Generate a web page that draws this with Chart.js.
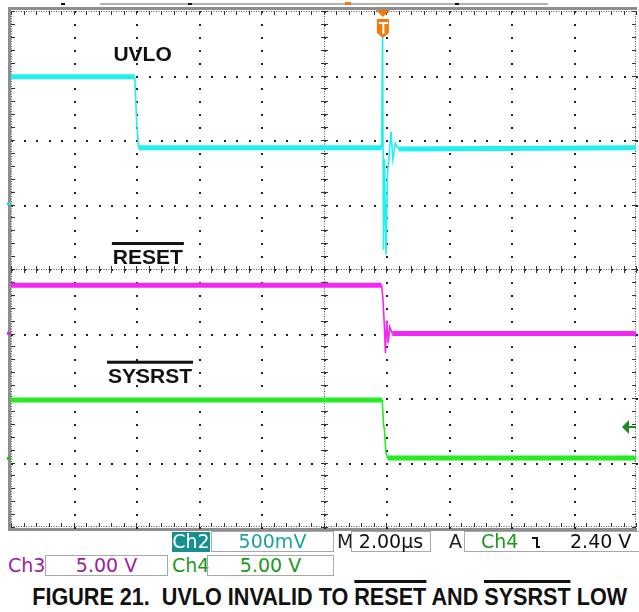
<!DOCTYPE html>
<html>
<head>
<meta charset="utf-8">
<script src="https://cdn.jsdelivr.net/npm/chart.js@4.4.1/dist/chart.umd.min.js"></script>
<style>
  body { margin: 0; background: #fff; width: 639px; height: 612px; overflow: hidden; position: relative; }
  #wrap { position: absolute; left: 0; top: 0; width: 639px; height: 532px; }
  .rd { position: absolute; height: 19px; line-height: 19px; font-family: "DejaVu Sans", sans-serif; font-size: 19px; white-space: nowrap; }
  .box { border: 1px solid #a8a8a8; text-align: center; box-sizing: border-box; height: 21px; }
  #caption { position: absolute; left: 0; top: 583px; width: 639px; text-align: center; font-family: "Liberation Sans", Arial, sans-serif; font-weight: bold; font-size: 24px; line-height: 27px; transform: scaleX(0.9); transform-origin: 322px 0; color: #111; white-space: pre; }
  #caption span { border-top: 3px solid #111; }
</style>
</head>
<body>
<div id="wrap"><canvas id="scope" width="639" height="532"></canvas></div>

<div class="rd" style="left:172px;top:532px;width:38px;height:20px;background:#178f8f;color:#fff;text-align:center">Ch2</div>
<div class="rd box" style="left:211px;top:531px;width:123px;color:#1aa3a3">500mV</div>
<div class="rd" style="left:337px;top:532px;color:#222">M</div>
<div class="rd box" style="left:351px;top:531px;width:80px;color:#111">2.00µs</div>
<div class="rd" style="left:449px;top:532px;color:#222">A</div>
<div class="rd box" style="left:464px;top:531px;width:175px;border-right:none"></div>
<div class="rd" style="left:481px;top:532px;color:#1a9a1a">Ch4</div>
<div class="rd" style="left:530px;top:532px;width:14px">
  <svg width="14" height="19" viewBox="0 0 14 19"><path d="M2 6 H7 V15 H10" fill="none" stroke="#111" stroke-width="2"/></svg>
</div>
<div class="rd" style="left:570px;top:532px;color:#111">2.40 V</div>

<div class="rd" style="left:8px;top:556px;color:#a020a0">Ch3</div>
<div class="rd box" style="left:45px;top:555px;width:123px;color:#a020a0">5.00 V</div>
<div class="rd" style="left:172px;top:556px;color:#1a9a1a">Ch4</div>
<div class="rd box" style="left:207px;top:555px;width:127px;color:#1a9a1a">5.00 V</div>

<div id="caption">FIGURE 21.  UVLO INVALID TO <span>RESET</span> AND <span>SYSRST</span> LOW</div>

<script>
// time in microseconds (2.00 us/div, 10 divisions), levels in screen divisions
const uvloTime = [0, 3.96, 4.02, 4.08, 11.86, 11.89, 11.92, 11.95, 12.0, 12.05, 12.1, 12.16, 12.22, 12.3, 12.4, 20];
const uvloDiv = [2.98, 2.98, 2.3, 1.88, 1.88, 3.65, 0.3, 1.7, 0.22, 1.5, 1.75, 2.13, 1.7, 1.95, 1.86, 1.88];

const resetTime = [0, 11.86, 11.9, 11.95, 11.98, 12.02, 12.07, 12.12, 12.2, 20];
const resetDiv = [-0.25, -0.25, -0.45, -0.9, -1.3, -0.8, -1.15, -0.9, -1.0, -1.0];

const sysrstTime = [0, 11.88, 11.92, 11.95, 12.0, 12.05, 20];
const sysrstDiv = [-2.03, -2.03, -2.4, -2.5, -2.85, -2.93, -2.93];

const channelNames = ["UVLO", "RESET", "SYSRST"];
const groundDiv = [1.02, -0.99, -2.93];
const triggerTime = 11.9;
const triggerLevelDiv = -2.45;

function toPoints(ts, vs) {
    return ts.map(function (t, i) { return { x: t, y: vs[i] }; });
}

// flat runs carry the noise band, edges are thin
function traceWidth(ctx) {
    return Math.abs(ctx.p1.parsed.y - ctx.p0.parsed.y) < 0.05 ? 5 : 1.6;
}

const scopeGrid = {
    id: "scopeGrid",
    beforeDatasetsDraw(chart) {
        const { ctx, chartArea: a, scales: { x, y } } = chart;
        ctx.save();

        // bezel
        ctx.fillStyle = "#8e8e8e";
        ctx.fillRect(a.left - 3, a.top - 4, a.right - a.left + 4, 3);
        ctx.fillRect(a.left - 3, a.top - 4, 3, a.bottom - a.top + 8);
        ctx.fillRect(a.left - 3, a.bottom + 1, a.right - a.left + 4, 3);

        ctx.fillStyle = "#222";
        // dotted major grid
        for (let i = 1; i < 10; i++) {
            const px = Math.round(x.getPixelForValue(i * 2));
            for (let k = 0; k <= 40; k++) {
                ctx.fillRect(px, Math.round(y.getPixelForValue(-4 + k * 0.2)), 2, 2);
            }
        }
        for (let j = 1; j < 8; j++) {
            const py = Math.round(y.getPixelForValue(-4 + j));
            for (let k = 0; k <= 50; k++) {
                ctx.fillRect(Math.round(x.getPixelForValue(k * 0.4)), py, 2, 2);
            }
        }

        // center crosshair and frame edges: fine dots plus minor ticks
        ctx.fillStyle = "#555";
        const cx = Math.round(x.getPixelForValue(10));
        const cy = Math.round(y.getPixelForValue(0));
        for (let p = a.top; p <= a.bottom; p += 2.5) {
            ctx.fillRect(cx, p, 1, 1);
            ctx.fillRect(a.left, p, 1, 1);
            ctx.fillRect(a.right - 1, p, 1, 1);
        }
        for (let p = a.left; p <= a.right; p += 2.5) {
            ctx.fillRect(p, cy, 1, 1);
            ctx.fillRect(p, a.top, 1, 1);
            ctx.fillRect(p, a.bottom - 1, 1, 1);
        }
        ctx.fillStyle = "#333";
        for (let k = 0; k <= 40; k++) {
            const py = Math.round(y.getPixelForValue(-4 + k * 0.2));
            ctx.fillRect(cx - 3, py, 7, 1);
            ctx.fillRect(a.left, py, 4, 1);
            ctx.fillRect(a.right - 4, py, 4, 1);
        }
        for (let k = 0; k <= 50; k++) {
            const px = Math.round(x.getPixelForValue(k * 0.4));
            ctx.fillRect(px, cy - 3, 1, 7);
            ctx.fillRect(px, a.top, 1, 4);
            ctx.fillRect(px, a.bottom - 4, 1, 4);
        }

        // record bar on top
        ctx.fillStyle = "#b4b4b4";
        ctx.fillRect(100, 3, 448, 2);
        ctx.fillStyle = "#111";
        ctx.fillRect(61, 3, 4, 2);
        ctx.fillRect(188, 3, 4, 2);
        ctx.fillRect(455, 3, 4, 2);
        ctx.fillStyle = "#f07a10";
        ctx.fillRect(345, 2, 6, 3);
        ctx.restore();
    },
    afterDatasetsDraw(chart) {
        const { ctx, chartArea: a, scales: { x, y } } = chart;
        ctx.save();

        // channel labels
        ctx.fillStyle = "#111";
        ctx.font = "bold 21px 'Liberation Sans', Arial, sans-serif";
        ctx.textAlign = "center";
        ctx.textBaseline = "middle";
        const labelPos = [[4.21, 3.32, false], [4.38, 0.17, true], [4.45, -1.67, true]];
        labelPos.forEach(function (p, i) {
            const px = x.getPixelForValue(p[0]);
            const py = y.getPixelForValue(p[1]);
            ctx.fillText(channelNames[i], px, py);
            if (p[2]) {
                const w = ctx.measureText(channelNames[i]).width;
                ctx.fillRect(px - w / 2 - 1, py - 16, w + 2, 3);
            }
        });

        // trigger position marker
        const tx = x.getPixelForValue(triggerTime);
        ctx.fillStyle = "#f07a10";
        ctx.beginPath();
        ctx.moveTo(tx - 7, a.top - 1);
        ctx.lineTo(tx + 7, a.top - 1);
        ctx.lineTo(tx, a.top + 6);
        ctx.closePath();
        ctx.fill();
        ctx.beginPath();
        ctx.moveTo(tx - 6, 19);
        ctx.lineTo(tx + 6, 19);
        ctx.lineTo(tx + 6, 33);
        ctx.lineTo(tx, 38);
        ctx.lineTo(tx - 6, 33);
        ctx.closePath();
        ctx.fill();
        ctx.fillStyle = "#fff";
        ctx.fillRect(tx - 4, 22, 9, 2);
        ctx.fillRect(tx - 0.5, 22, 2, 12);

        // trigger level arrow (Ch4)
        const ly = y.getPixelForValue(triggerLevelDiv);
        ctx.fillStyle = "#1e8a1e";
        ctx.beginPath();
        ctx.moveTo(a.right - 14, ly);
        ctx.lineTo(a.right - 7, ly - 7);
        ctx.lineTo(a.right - 7, ly + 7);
        ctx.closePath();
        ctx.fill();
        ctx.fillRect(a.right - 8, ly - 1, 8, 2);

        // ground markers at left edge
        const gColors = ["#20d8d8", "#e020e0", "#20c020"];
        groundDiv.forEach(function (g, i) {
            ctx.fillStyle = gColors[i];
            ctx.fillRect(a.left - 4, y.getPixelForValue(g) - 1, 4, 3);
        });
        ctx.restore();
    }
};

new Chart(document.getElementById("scope"), {
    type: "line",
    data: {
        datasets: [
            {
                label: "UVLO",
                data: toPoints(uvloTime, uvloDiv),
                borderColor: "#22f0f0",
                pointRadius: 0,
                segment: { borderWidth: traceWidth }
            },
            {
                label: "RESET",
                data: toPoints(resetTime, resetDiv),
                borderColor: "#f526f5",
                pointRadius: 0,
                segment: { borderWidth: traceWidth }
            },
            {
                label: "SYSRST",
                data: toPoints(sysrstTime, sysrstDiv),
                borderColor: "#22ee22",
                pointRadius: 0,
                segment: { borderWidth: traceWidth }
            }
        ]
    },
    options: {
        responsive: false,
        animation: false,
        layout: { padding: { left: 11, top: 11, right: 3, bottom: 5 } },
        plugins: { legend: { display: false }, tooltip: { enabled: false } },
        scales: {
            x: { type: "linear", min: 0, max: 20, display: false },
            y: { type: "linear", min: -4, max: 4, display: false }
        }
    },
    plugins: [scopeGrid]
});
</script>
</body>
</html>
